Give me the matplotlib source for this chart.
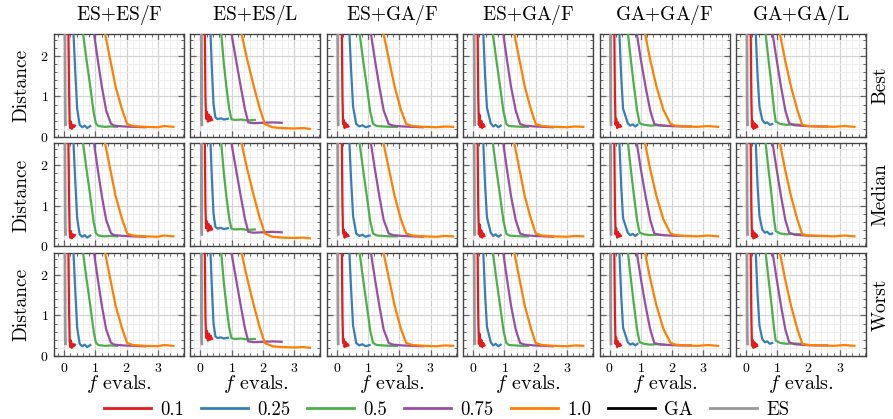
import matplotlib
matplotlib.use("Agg")
import matplotlib.pyplot as plt
from matplotlib.lines import Line2D
from matplotlib.ticker import MultipleLocator

plt.rcParams['font.family'] = 'serif'
plt.rcParams['font.serif'] = ['cmr10', 'DejaVu Serif']
plt.rcParams['mathtext.fontset'] = 'cm'
plt.rcParams['axes.unicode_minus'] = False
plt.rcParams['axes.formatter.use_mathtext'] = True

# panel titles / row labels
columns = [r"ES$+$ES/F", r"ES$+$ES/L", r"ES$+$GA/F", r"ES$+$GA/F", r"GA$+$GA/F", r"GA$+$GA/L"]
rows = ["Best", "Median", "Worst"]
rates = ["0.1", "0.25", "0.5", "0.75", "1.0"]
rate_colors = ["#e41a1c", "#377eb8", "#4daf4a", "#984ea3", "#ff7f00"]

# baseline lines (GA / ES)
base_x = [0.03, 0.035, 0.04, 0.045]
base_y = [2.6, 1.2, 0.45, 0.3]

# curves per column: rate -> (f evals, distance)
es_es_f = {
    "0.1": ([0.14, 0.16, 0.18, 0.20, 0.22, 0.25, 0.28, 0.31, 0.35],
            [2.6, 1.2, 0.35, 0.22, 0.38, 0.20, 0.30, 0.24, 0.28]),
    "0.25": ([0.30, 0.36, 0.42, 0.50, 0.58, 0.66, 0.74, 0.84],
             [2.6, 1.6, 0.70, 0.30, 0.24, 0.28, 0.22, 0.27]),
    "0.5": ([0.60, 0.72, 0.84, 0.95, 1.02, 1.10, 1.30, 1.50, 1.70],
            [2.6, 1.9, 1.24, 0.60, 0.33, 0.27, 0.25, 0.26, 0.25]),
    "0.75": ([0.95, 1.08, 1.21, 1.35, 1.50, 1.60, 1.90, 2.20, 2.60],
             [2.6, 1.9, 1.24, 0.65, 0.33, 0.28, 0.26, 0.25, 0.24]),
    "1.0": ([1.30, 1.48, 1.65, 1.86, 2.02, 2.20, 2.60, 3.00, 3.20, 3.50],
            [2.6, 1.9, 1.24, 0.67, 0.32, 0.27, 0.25, 0.24, 0.27, 0.25]),
}
es_es_l = {
    "0.1": ([0.14, 0.16, 0.18, 0.21, 0.24, 0.27, 0.30, 0.33, 0.37],
            [2.6, 1.0, 0.45, 0.62, 0.38, 0.55, 0.40, 0.50, 0.42]),
    "0.25": ([0.32, 0.37, 0.42, 0.48, 0.55, 0.65, 0.75, 0.88],
             [2.6, 1.6, 0.80, 0.48, 0.44, 0.46, 0.43, 0.45]),
    "0.5": ([0.66, 0.75, 0.83, 0.92, 0.99, 1.10, 1.30, 1.50, 1.74],
            [2.6, 1.8, 1.24, 0.70, 0.44, 0.42, 0.43, 0.41, 0.42]),
    "0.75": ([0.98, 1.14, 1.29, 1.42, 1.53, 1.70, 2.00, 2.30, 2.60],
             [2.6, 1.9, 1.24, 0.70, 0.36, 0.34, 0.35, 0.36, 0.35]),
    "1.0": ([1.30, 1.50, 1.71, 1.90, 2.06, 2.30, 2.60, 3.00, 3.30, 3.50],
            [2.6, 1.9, 1.24, 0.70, 0.32, 0.24, 0.22, 0.21, 0.22, 0.20]),
}
es_ga_f1 = {
    "0.1": ([0.16, 0.18, 0.20, 0.22, 0.25, 0.28, 0.31, 0.34, 0.37],
            [2.6, 1.0, 0.32, 0.42, 0.22, 0.35, 0.24, 0.30, 0.26]),
    "0.25": ([0.40, 0.46, 0.52, 0.62, 0.72, 0.82, 0.92, 1.05],
             [2.6, 1.6, 0.75, 0.32, 0.26, 0.29, 0.24, 0.27]),
    "0.5": ([0.72, 0.84, 0.96, 1.07, 1.16, 1.28, 1.48, 1.70, 1.92],
            [2.6, 1.9, 1.24, 0.62, 0.32, 0.27, 0.26, 0.25, 0.25]),
    "0.75": ([1.08, 1.22, 1.36, 1.50, 1.66, 1.80, 2.10, 2.40, 2.75],
             [2.6, 1.9, 1.24, 0.65, 0.32, 0.28, 0.26, 0.25, 0.24]),
    "1.0": ([1.48, 1.67, 1.85, 2.05, 2.22, 2.42, 2.80, 3.20, 3.45, 3.72],
            [2.6, 1.9, 1.24, 0.67, 0.32, 0.27, 0.25, 0.24, 0.26, 0.25]),
}
es_ga_f2 = {
    "0.1": ([0.14, 0.16, 0.18, 0.20, 0.23, 0.26, 0.29, 0.32, 0.36],
            [2.6, 1.0, 0.30, 0.55, 0.24, 0.40, 0.22, 0.32, 0.26]),
    "0.25": ([0.32, 0.38, 0.44, 0.56, 0.64, 0.72, 0.80, 0.88],
             [2.6, 1.5, 0.72, 0.34, 0.26, 0.30, 0.24, 0.28]),
    "0.5": ([0.62, 0.74, 0.86, 0.97, 1.06, 1.15, 1.35, 1.55, 1.75],
            [2.6, 1.9, 1.24, 0.62, 0.32, 0.27, 0.26, 0.25, 0.25]),
    "0.75": ([0.95, 1.08, 1.21, 1.36, 1.50, 1.65, 1.95, 2.25, 2.55],
             [2.6, 1.9, 1.24, 0.65, 0.32, 0.28, 0.26, 0.25, 0.24]),
    "1.0": ([1.30, 1.48, 1.65, 1.85, 2.00, 2.20, 2.60, 3.00, 3.25, 3.52],
            [2.6, 1.9, 1.24, 0.67, 0.32, 0.27, 0.25, 0.24, 0.26, 0.25]),
}
ga_ga_f = {
    "0.1": ([0.15, 0.17, 0.19, 0.21, 0.24, 0.27, 0.30, 0.33, 0.36],
            [2.6, 1.0, 0.30, 0.45, 0.22, 0.36, 0.24, 0.30, 0.26]),
    "0.25": ([0.31, 0.37, 0.43, 0.58, 0.66, 0.74, 0.82, 0.89],
             [2.6, 1.5, 0.70, 0.34, 0.28, 0.31, 0.26, 0.30]),
    "0.5": ([0.58, 0.68, 0.78, 0.88, 0.96, 1.10, 1.30, 1.50, 1.75],
            [2.6, 1.9, 1.24, 0.65, 0.34, 0.30, 0.28, 0.29, 0.28]),
    "0.75": ([0.86, 1.00, 1.15, 1.30, 1.43, 1.58, 1.90, 2.25, 2.60],
             [2.6, 1.9, 1.24, 0.65, 0.32, 0.29, 0.27, 0.26, 0.26]),
    "1.0": ([1.12, 1.30, 1.50, 1.72, 1.95, 2.10, 2.40, 2.80, 3.15, 3.47],
            [2.6, 1.9, 1.24, 0.67, 0.32, 0.28, 0.26, 0.25, 0.27, 0.25]),
}
ga_ga_l = {
    "0.1": ([0.15, 0.17, 0.19, 0.21, 0.24, 0.27, 0.30, 0.33, 0.36],
            [2.6, 1.0, 0.25, 0.40, 0.20, 0.34, 0.22, 0.30, 0.25]),
    "0.25": ([0.31, 0.37, 0.43, 0.52, 0.60, 0.68, 0.76, 0.84],
             [2.6, 1.5, 0.75, 0.42, 0.34, 0.36, 0.30, 0.32]),
    "0.5": ([0.62, 0.72, 0.82, 0.90, 0.95, 1.10, 1.30, 1.50, 1.75],
            [2.6, 1.9, 1.24, 0.65, 0.38, 0.32, 0.30, 0.31, 0.30]),
    "0.75": ([0.84, 0.98, 1.12, 1.26, 1.38, 1.55, 1.90, 2.25, 2.60],
             [2.6, 1.9, 1.24, 0.65, 0.34, 0.29, 0.27, 0.26, 0.26]),
    "1.0": ([1.07, 1.25, 1.44, 1.64, 1.80, 2.00, 2.40, 2.80, 3.15, 3.47],
            [2.6, 1.9, 1.24, 0.67, 0.30, 0.27, 0.26, 0.25, 0.27, 0.25]),
}
curves = [es_es_f, es_es_l, es_ga_f1, es_ga_f2, ga_ga_f, ga_ga_l]

fig, axes = plt.subplots(3, 6, figsize=(8.93, 4.19), dpi=100)
fig.subplots_adjust(left=0.0605, right=0.9698, top=0.9189, bottom=0.1504,
                    wspace=0.049, hspace=0.063)

for r in range(3):
    for c in range(6):
        ax = axes[r, c]
        ax.plot(base_x, base_y, color='black', lw=1.2, zorder=2)
        ax.plot(base_x, base_y, color='#999999', lw=2.0, zorder=3)
        for rate, col in zip(rates, rate_colors):
            xs, ys = curves[c][rate]
            ax.plot(xs, ys, color=col, lw=1.6, zorder=4)

        ax.set_xlim(-0.32, 3.84)
        ax.set_ylim(0, 2.54)
        ax.xaxis.set_major_locator(MultipleLocator(1))
        ax.xaxis.set_minor_locator(MultipleLocator(0.2))
        ax.yaxis.set_major_locator(MultipleLocator(1))
        ax.yaxis.set_minor_locator(MultipleLocator(0.2))
        ax.grid(which='major', color='#d4d4d4', lw=0.9)
        ax.grid(which='minor', color='#ededed', lw=0.6)
        ax.set_axisbelow(True)
        ax.tick_params(which='both', direction='in', top=True, right=True,
                       color='#666666', labelsize=10, pad=4)
        ax.tick_params(which='major', length=4.5, width=0.9)
        ax.tick_params(which='minor', length=2.5, width=0.7)
        for s in ax.spines.values():
            s.set_color('#444444')
            s.set_linewidth(1.0)

        if r == 0:
            ax.set_title(columns[c], fontsize=14, pad=10)
        if c == 0:
            ax.set_ylabel('Distance', fontsize=14, labelpad=7)
        else:
            ax.tick_params(labelleft=False)
        if r == 2:
            ax.set_xlabel('$f$ evals.', fontsize=14.5, labelpad=-1)
        else:
            ax.tick_params(labelbottom=False)
        if c == 5:
            ax.text(1.11, 0.5, rows[r], rotation=90, fontsize=14,
                    transform=ax.transAxes, ha='center', va='center')

handles = [Line2D([], [], color=col, lw=2) for col in rate_colors]
handles += [Line2D([], [], color='black', lw=2), Line2D([], [], color='#999999', lw=2)]
labels = rates + ["GA", "ES"]
fig.legend(handles, labels, loc='lower center', ncol=7, frameon=False,
           fontsize=13.5, bbox_to_anchor=(0.5, -0.04), handlelength=2.5,
           columnspacing=0.9, handletextpad=0.5)

fig.savefig('out.png', dpi=100)
